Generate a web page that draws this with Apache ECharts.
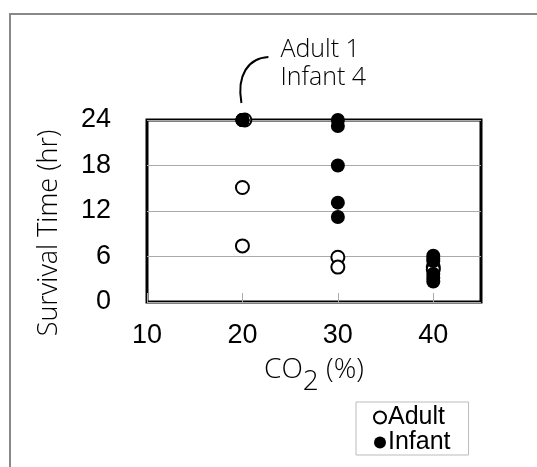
<!DOCTYPE html>
<html>
<head>
<meta charset="utf-8">
<script src="https://cdn.jsdelivr.net/npm/echarts@6/dist/echarts.min.js"></script>
<style>html,body{margin:0;padding:0;background:#fff}#c{width:537px;height:467px}</style>
</head>
<body>
<div id="c"></div>
<script>
// Data (CO2 %, survival time hr)
const adultX = [20.25, 20, 20, 30, 30, 40, 40];
const adultY = [24, 15.1, 7.4, 5.9, 4.6, 4.6, 4.3];
const infantX = [20, 20, 20, 20, 30, 30, 30, 30, 30, 40, 40, 40, 40, 40, 40];
const infantY = [24, 24, 24, 24, 24, 23.2, 18.0, 13.1, 11.2, 6.1, 5.7, 5.4, 3.7, 3.2, 2.7];
const xTicks = [10, 20, 30, 40];
const yTicks = [0, 6, 12, 18, 24];
const annotationLines = ['Adult 1', 'Infant 4'];
const annotationAt = [20, 24];

const lightFont = 'Open Sans';
const chart = echarts.init(document.getElementById('c'), null, {renderer: 'canvas'});
const option = {
  animation: false,
  backgroundColor: '#fff',
  grid: {left: 147, right: 56, top: 120, bottom: 165, show: true, borderColor: '#000', borderWidth: 3, backgroundColor: 'transparent'},
  xAxis: {
    type: 'value', min: 10, max: 45, interval: 10,
    axisLine: {show: false},
    axisTick: {show: true, inside: true, length: 9, lineStyle: {color: '#aaa'}},
    splitLine: {show: false},
    axisLabel: {fontSize: 27, color: '#000', fontFamily: 'Liberation Sans', margin: 20, showMaxLabel: false,
      formatter: v => xTicks.includes(v) ? String(v) : ''},
    name: '{a|CO}{s|2}{a| (%)}', nameLocation: 'middle', nameGap: 54,
    nameTextStyle: {rich: {
      a: {fontSize: 28, fontFamily: lightFont, fontWeight: 300, color: '#000', lineHeight: 30, verticalAlign: 'top'},
      s: {fontSize: 28, fontFamily: lightFont, fontWeight: 300, color: '#000', lineHeight: 30, padding: [12, 0, 0, 0], verticalAlign: 'top'}
    }}
  },
  yAxis: {
    type: 'value', min: 0, max: 24, interval: 6,
    axisLine: {show: false}, axisTick: {show: false},
    splitLine: {show: true, lineStyle: {color: '#aaa', width: 1}},
    axisLabel: {fontSize: 27, color: '#000', fontFamily: 'Liberation Sans', margin: 36,
      formatter: v => yTicks.includes(v) ? String(v) : ''},
    name: 'Survival Time (hr)', nameLocation: 'middle', nameGap: 84,
    nameTextStyle: {fontSize: 27, fontFamily: lightFont, fontWeight: 300, color: '#000', padding: [0, 44, 0, 0]}
  },
  legend: {
    left: 356, top: 402, orient: 'vertical', padding: [3, 18, 0, 17], itemGap: 0,
    itemWidth: 12, itemHeight: 12, borderColor: '#bbb', borderWidth: 1,
    textStyle: {fontSize: 25, fontFamily: 'Liberation Sans', color: '#000', padding: [0, 0, 0, -3]},
    data: [{name: 'Adult', icon: 'circle'}, {name: 'Infant', icon: 'circle'}]
  },
  series: [
    {name: 'Adult', type: 'scatter', symbol: 'circle', symbolSize: 13,
      itemStyle: {color: '#fff', borderColor: '#000', borderWidth: 2, opacity: 1},
      data: adultX.map((x, i) => [x, adultY[i]]), z: 3},
    {name: 'Infant', type: 'scatter', symbol: 'circle', symbolSize: 14,
      itemStyle: {color: '#000', borderColor: '#000', borderWidth: 0, opacity: 1},
      data: infantX.map((x, i) => [x, infantY[i]]), z: 4}
  ]
};
chart.setOption(option);
const p = chart.convertToPixel({gridIndex: 0}, annotationAt);
chart.setOption({
  graphic: [
    {type: 'rect', shape: {x: 10, y: 14, width: 600, height: 500}, style: {fill: 'none', stroke: '#888', lineWidth: 2}, z: 0, silent: true},
    {type: 'bezierCurve', shape: {x1: p[0] - 1, y1: p[1] - 17, x2: p[0] + 26, y2: p[1] - 63, cpx1: p[0] - 6, cpy1: p[1] - 45, cpx2: p[0] + 6, cpy2: p[1] - 62},
      style: {fill: 'none', stroke: '#000', lineWidth: 2}, z: 10},
    {type: 'text', left: p[0] + 38, top: p[1] - 84,
      style: {text: annotationLines.join('\n'), fontSize: 25, fontFamily: lightFont, fontWeight: 300, fill: '#000', lineHeight: 28}, z: 10}
  ]
});
</script>
</body>
</html>
